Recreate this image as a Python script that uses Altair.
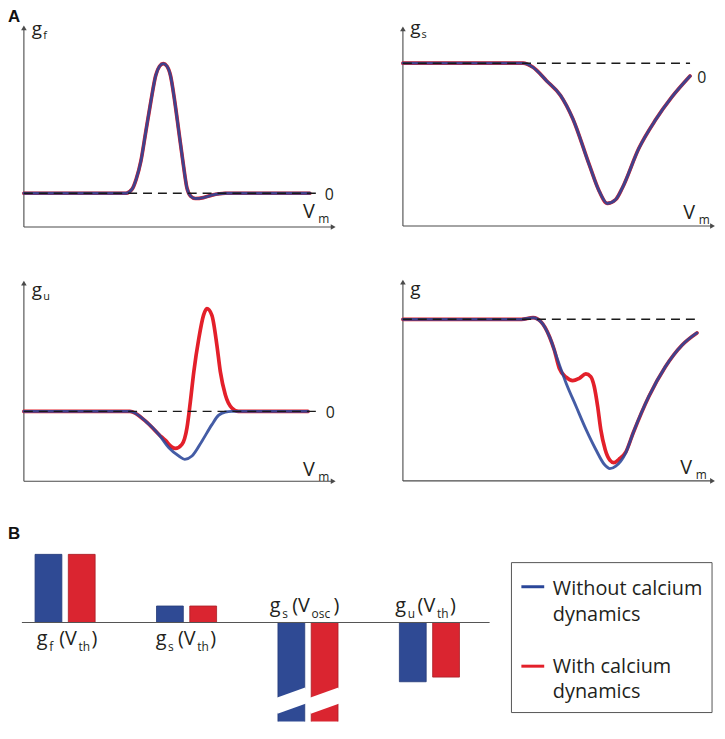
import altair as alt
import pandas as pd

# ---------------- data ----------------
# Panel A: conductances vs membrane potential (V_m in 0..100 axis units)
GF_VM = [0, 32.8, 34.7, 36.0, 37.5, 39.1, 40.7, 42.3, 43.5, 44.7, 45.9, 47.0, 48.4, 49.7, 51.0, 52.3, 53.5, 55.0, 57.6, 60.3, 64.6, 91.7]
GF_G = [0, 0, 0.031, 0.107, 0.245, 0.475, 0.705, 0.910, 0.98, 1.0, 0.98, 0.910, 0.705, 0.475, 0.245, 0.04, -0.023, -0.041, -0.034, -0.015, 0, 0]

GS_VM = [0, 38.5, 41.7, 46.0, 50.5, 54.4, 59.7, 62.9, 65.5, 68.2, 70.3, 75.6, 80.9, 86.2, 92.0]
GS_G = [0, 0, -0.030, -0.125, -0.230, -0.394, -0.724, -0.913, -1.0, -0.972, -0.890, -0.607, -0.406, -0.241, -0.092]

GU_VM_WITHOUT = [0, 34.0, 39.1, 43.3, 46.5, 49.7, 51.6, 53.9, 57.1, 60.3, 62.4, 64.6, 66.6, 91.1]
GU_WITHOUT = [0, 0, -0.097, -0.225, -0.354, -0.435, -0.467, -0.435, -0.290, -0.129, -0.039, -0.006, 0, 0]
GU_VM_WITH = [0, 34.0, 39.1, 43.3, 45.4, 47.5, 48.6, 50.7, 52.3, 53.4, 54.5, 56.1, 57.6, 58.7, 60.3, 61.9, 63.0, 64.6, 66.7, 68.8, 91.1]
GU_WITH = [0, 0, -0.097, -0.225, -0.283, -0.348, -0.361, -0.322, -0.161, 0.097, 0.387, 0.710, 0.935, 1.0, 0.935, 0.645, 0.387, 0.162, 0.033, 0, 0]

G_VM_WITHOUT = [0, 38.0, 41.7, 44.3, 47.0, 49.6, 52.3, 55.5, 58.7, 61.8, 64.5, 66.3, 68.2, 71.4, 73.8, 78.8, 84.1, 89.4, 94.2]
G_WITHOUT = [0, 0, 0.011, -0.018, -0.118, -0.273, -0.428, -0.584, -0.739, -0.872, -0.971, -1.0, -0.983, -0.894, -0.760, -0.517, -0.317, -0.173, -0.091]
G_VM_WITH = [0, 38.0, 41.7, 44.3, 47.0, 48.5, 50.1, 52.3, 54.4, 56.5, 58.6, 60.2, 61.3, 62.4, 63.4, 64.8, 66.3, 67.6, 69.2, 71.4, 73.8, 78.8, 84.1, 89.4, 94.2]
G_WITH = [0, 0, 0.011, -0.018, -0.118, -0.206, -0.328, -0.388, -0.411, -0.395, -0.366, -0.384, -0.450, -0.584, -0.739, -0.872, -0.943, -0.960, -0.938, -0.890, -0.760, -0.517, -0.317, -0.173, -0.091]

# Panel B: conductance values at threshold / oscillation potential
BAR_CATS = ["gf_th", "gs_th", "gs_osc", "gu_th"]
BAR_WITHOUT = [1.0, 0.242, -2.2, -0.870]
BAR_WITH = [1.0, 0.242, -2.2, -0.802]
SERIES = ["Without calcium dynamics", "With calcium dynamics"]

# ---------------- style / layout ----------------
W, H = 714, 716
BLUE, RED = "#2a4699", "#e3202a"
BAR_BLUE, BAR_RED = "#2f4a94", "#da2530"
AXIS_C = "#4a4a4a"
TXT_C = "#231f20"
FONT = "Open Sans"

PX = alt.Scale(domain=[0, W], range=[0, W], nice=False, zero=False)
PY = alt.Scale(domain=[0, H], range=[0, H], nice=False, zero=False)


def lin(dom, rng):
    return alt.Scale(domain=dom, range=rng, nice=False, zero=False)


# panel scales: (x scale, y scale, dashed-line end)
PANELS = {
    "gf": (lin([0, 100], [16, 330]), lin([0, 1], [184, 53.5]), 94.8),
    "gs": (lin([0, 100], [397.7, 712]), lin([-1, 0], [194.3, 53]), 92.0),
    "gu": (lin([0, 100], [16, 330]), lin([0, 1], [403.7, 300.3]), 94.3),
    "g": (lin([0, 100], [397.7, 712]), lin([-1, 0], [461.3, 311]), 94.2),
}


def curve(vm, g, color, width, xs, ys, opacity=1.0):
    df = pd.DataFrame({"vm": vm, "g": g, "i": list(range(len(vm)))})
    return alt.Chart(df).mark_line(
        color=color, strokeWidth=width, interpolate="monotone", opacity=opacity, strokeCap="round"
    ).encode(
        x=alt.X("vm:Q", scale=xs, axis=None),
        y=alt.Y("g:Q", scale=ys, axis=None),
        order="i:Q",
    )


def dashed(xs, ys, end):
    df = pd.DataFrame({"vm": [0, end], "g": [0, 0]})
    return alt.Chart(df).mark_line(color="#1a1a1a", strokeWidth=1.5, strokeDash=[9, 6]).encode(
        x=alt.X("vm:Q", scale=xs, axis=None),
        y=alt.Y("g:Q", scale=ys, axis=None),
    )


layers = []

# axes (pixel layout)
axes_df = pd.DataFrame({
    "x": [16, 16, 397.7, 397.7, 16, 16, 397.7, 397.7],
    "y": [218, 218, 217, 217, 474, 474, 473.7, 473.7],
    "x2": [16, 327, 397.7, 709, 16, 327, 397.7, 709],
    "y2": [18, 218, 19, 217, 275, 474, 274, 473.7],
})
layers.append(alt.Chart(axes_df).mark_rule(color=AXIS_C, strokeWidth=1.1).encode(
    x=alt.X("x:Q", scale=PX, axis=None), x2="x2:Q",
    y=alt.Y("y:Q", scale=PY, axis=None), y2="y2:Q"))

arrows_df = pd.DataFrame({
    "x": [16, 327.5, 397.7, 709.5, 16, 327.5, 397.7, 709.5],
    "y": [17.5, 218, 18.5, 217, 274.5, 474, 273.5, 473.7],
    "shape": ["triangle-up", "triangle-right"] * 4,
})
layers.append(alt.Chart(arrows_df).mark_point(filled=True, color=AXIS_C, size=32, opacity=1).encode(
    x=alt.X("x:Q", scale=PX, axis=None),
    y=alt.Y("y:Q", scale=PY, axis=None),
    shape=alt.Shape("shape:N", scale=None)))

# curves
curve_sets = {
    "gf": ((GF_VM, GF_G), (GF_VM, GF_G)),
    "gs": ((GS_VM, GS_G), (GS_VM, GS_G)),
    "gu": ((GU_VM_WITH, GU_WITH), (GU_VM_WITHOUT, GU_WITHOUT)),
    "g": ((G_VM_WITH, G_WITH), (G_VM_WITHOUT, G_WITHOUT)),
}
for key, (with_c, without_c) in curve_sets.items():
    xs, ys, end = PANELS[key]
    layers.append(curve(with_c[0], with_c[1], RED, 3.7, xs, ys))
    layers.append(curve(without_c[0], without_c[1], BLUE, 2.9, xs, ys, opacity=0.88))
    layers.append(dashed(xs, ys, end))

# bars (panel B)
STEP_PX = 122.3
BAR_W = 27 / STEP_PX
OFF = 16.75 / STEP_PX
rows = []
for i, c in enumerate(BAR_CATS):
    for s, vals, off in ((SERIES[0], BAR_WITHOUT, -OFF), (SERIES[1], BAR_WITH, OFF)):
        rows.append({"cat": c, "series": s, "lo": i + off - BAR_W / 2, "hi": i + off + BAR_W / 2,
                     "v": vals[i], "zero": 0.0})
bars_df = pd.DataFrame(rows)
BX = lin([0, 3], [57.5, 424.4])
BY = lin([0, 1], [616.3, 547.7])
layers.append(alt.Chart(bars_df).mark_bar(strokeWidth=0.8, clip=True).encode(
    x=alt.X("lo:Q", scale=BX, axis=None), x2="hi:Q",
    y=alt.Y("v:Q", scale=BY, axis=None), y2="zero:Q",
    color=alt.Color("series:N", scale=alt.Scale(domain=SERIES, range=[BAR_BLUE, BAR_RED]), legend=None),
    stroke=alt.Stroke("series:N", scale=alt.Scale(domain=SERIES, range=["#243a78", "#a81d25"]), legend=None)))

# axis-break cut through the g_s(V_osc) bars
EXT = 3 / STEP_PX
cut_df = bars_df[bars_df["cat"] == "gs_osc"].copy()
cut_df["cx"] = cut_df["lo"] - EXT
cut_df["cx2"] = cut_df["hi"] + EXT
cut_df["cy"] = -1.233
cut_df["cy2"] = -1.061
layers.append(alt.Chart(cut_df).mark_rule(color="white", strokeWidth=15.5, strokeCap="butt").encode(
    x=alt.X("cx:Q", scale=BX, axis=None), x2="cx2:Q",
    y=alt.Y("cy:Q", scale=BY, axis=None), y2="cy2:Q"))

# baseline of panel B
base_df = pd.DataFrame({"x": [14], "x2": [485], "y": [616.3]})
layers.append(alt.Chart(base_df).mark_rule(color="#555555", strokeWidth=1.1).encode(
    x=alt.X("x:Q", scale=PX, axis=None), x2="x2:Q", y=alt.Y("y:Q", scale=PY, axis=None)))

# legend box
box_df = pd.DataFrame({"x": [507], "x2": [709], "y": [556], "y2": [707]})
layers.append(alt.Chart(box_df).mark_rect(fill="white", stroke="#555555", strokeWidth=1).encode(
    x=alt.X("x:Q", scale=PX, axis=None), x2="x2:Q",
    y=alt.Y("y:Q", scale=PY, axis=None), y2="y2:Q"))
leg_df = pd.DataFrame({"series": SERIES, "x": [517, 517], "x2": [540, 540], "y": [580.3, 660.3]})
layers.append(alt.Chart(leg_df).mark_rule(strokeWidth=3).encode(
    x=alt.X("x:Q", scale=PX, axis=None), x2="x2:Q", y=alt.Y("y:Q", scale=PY, axis=None),
    color=alt.Color("series:N", scale=alt.Scale(domain=SERIES, range=[BLUE, RED]), legend=None)))

# texts
texts = [
    # legend
    ("Without calcium", 548.7, 588.7, 20), ("dynamics", 548.7, 615, 20),
    ("With calcium", 548.7, 667, 20), ("dynamics", 548.7, 692, 20),
    # panel A axis labels
    ("g", 24, 25, 19), ("f", 35.5, 29, 11),
    ("g", 405, 24, 19), ("s", 416.5, 28, 11),
    ("g", 24, 288, 19), ("u", 35.5, 292, 11),
    ("g", 405, 286, 19),
    ("V", 297, 209, 20), ("m", 312.5, 214, 12),
    ("V", 680, 210, 20), ("m", 695.5, 215, 12),
    ("V", 297, 469, 20), ("m", 312.5, 474, 12),
    ("V", 677, 467, 20), ("m", 692.5, 472, 12),
    ("0", 319, 191, 16), ("0", 694, 73, 16), ("0", 320, 410, 16),
]
# bar labels: g_x (V_y)
BAR_LABELS = [("f", "th", 29, 639), ("s", "th", 148.7, 639), ("s", "osc", 263.7, 606), ("u", "th", 390, 606)]
for sub1, sub2, gx, by in BAR_LABELS:
    close = 55 if sub2 == "th" else 64
    texts += [("g", gx, by, 20), (sub1, gx + 12.5, by + 6, 12), ("(V", gx + 22.5, by, 20),
              (sub2, gx + 42, by + 6, 12), (")", gx + close, by, 20)]
text_df = pd.DataFrame(texts, columns=["t", "x", "y", "s"])
layers.append(alt.Chart(text_df).mark_text(align="left", baseline="alphabetic", font=FONT, color=TXT_C).encode(
    x=alt.X("x:Q", scale=PX, axis=None), y=alt.Y("y:Q", scale=PY, axis=None),
    text="t:N", size=alt.Size("s:Q", scale=None)))

bold_df = pd.DataFrame({"t": ["A", "B"], "x": [0, 0], "y": [12, 532]})
layers.append(alt.Chart(bold_df).mark_text(align="left", baseline="alphabetic", font="Liberation Sans",
                                           fontWeight="bold", fontSize=17, color="#111111").encode(
    x=alt.X("x:Q", scale=PX, axis=None), y=alt.Y("y:Q", scale=PY, axis=None), text="t:N"))

chart = alt.layer(*layers).resolve_scale(x="independent", y="independent", color="independent",
                                          stroke="independent", shape="independent", size="independent").properties(
    width=W, height=H, padding=0, autosize=alt.AutoSizeParams(type="none"), background="white"
).configure_view(stroke=None)

chart.save("out.html", embed_options={"renderer": "svg", "actions": False})
